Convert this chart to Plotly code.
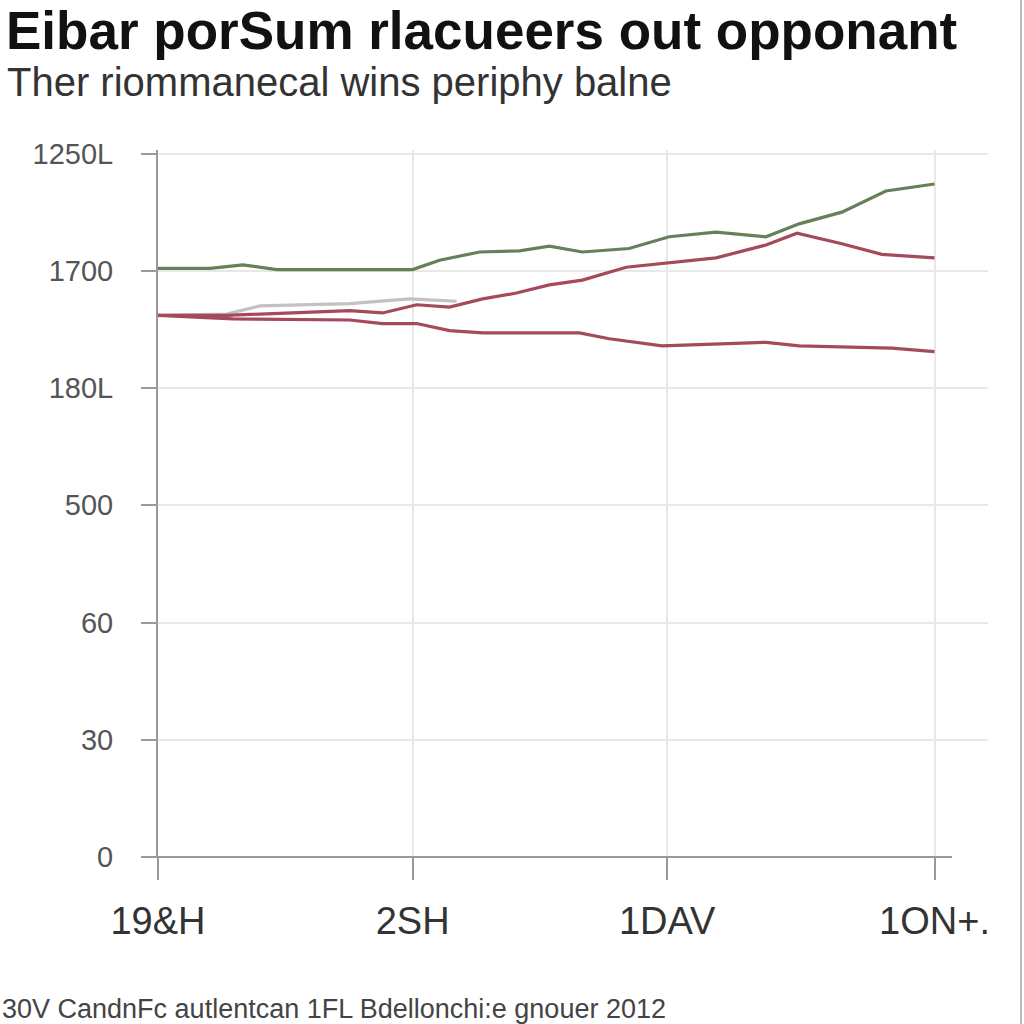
import plotly.graph_objects as go

# ---- text ----
title_text = "Eibar porSum rlacueers out opponant"
subtitle_text = "Ther riommanecal wins periphy balne"
footer_text = "30V CandnFc autlentcan 1FL Bdellonchi:e gnouer 2012"

# ---- axes ----
x_tick_vals = [0, 10, 20, 30.5]
x_tick_labels = ["19&H", "2SH", "1DAV", "1ON+."]
y_tick_vals = [0, 1, 2, 3, 4, 5, 6]
y_tick_labels = ["0", "30", "60", "500", "180L", "1700", "1250L"]

# ---- series ----
green_x = [0, 2.04, 3.33, 4.67, 10, 11.06, 12.63, 14.2, 15.37, 16.67, 18.5,
           20.08, 21.92, 23.88, 25.18, 26.86, 28.59, 30.5]
green_y = [5.02, 5.02, 5.05, 5.01, 5.01, 5.09, 5.16, 5.17, 5.21, 5.16, 5.19,
           5.29, 5.33, 5.29, 5.40, 5.50, 5.68, 5.74]

red_up_x = [0, 2.7, 7.53, 8.82, 10.16, 11.45, 12.75, 14.08, 15.37, 16.67, 18.39,
            20.08, 21.92, 23.88, 25.1, 26.86, 28.43, 30.5]
red_up_y = [4.62, 4.62, 4.66, 4.64, 4.71, 4.69, 4.76, 4.81, 4.88, 4.92, 5.03,
            5.07, 5.11, 5.22, 5.32, 5.23, 5.14, 5.11]

gray_x = [0, 2.7, 4.0, 7.53, 9.88, 11.73]
gray_y = [4.62, 4.63, 4.70, 4.72, 4.76, 4.74]

red_low_x = [0, 2.94, 7.53, 8.82, 10.16, 11.45, 12.75, 15.37, 16.55, 17.73,
             19.8, 23.88, 25.18, 28.82, 30.5]
red_low_y = [4.62, 4.59, 4.58, 4.55, 4.55, 4.49, 4.47, 4.47, 4.47, 4.42,
             4.36, 4.39, 4.36, 4.34, 4.31]

GREEN = "#66805a"
RED = "#a44a5b"
GRAY = "#c2c2c2"

fig = go.Figure()
fig.add_trace(go.Scatter(x=gray_x, y=gray_y, mode="lines",
                         line=dict(color=GRAY, width=3.2), hoverinfo="skip"))
fig.add_trace(go.Scatter(x=red_low_x, y=red_low_y, mode="lines",
                         line=dict(color=RED, width=3.2), hoverinfo="skip"))
fig.add_trace(go.Scatter(x=red_up_x, y=red_up_y, mode="lines",
                         line=dict(color=RED, width=3.2), hoverinfo="skip"))
fig.add_trace(go.Scatter(x=green_x, y=green_y, mode="lines",
                         line=dict(color=GREEN, width=3.2), hoverinfo="skip"))

# plot area: x 158..988 px, y 150..857 px
L, R, T, B = 158, 988, 150, 857
W, H = 1024, 1024
pw, ph = R - L, B - T

def px(x):
    return (x - L) / pw

def py(y):
    return (B - y) / ph

fig.update_layout(
    width=W, height=H,
    margin=dict(l=L, r=W - R, t=T, b=H - B, pad=0),
    paper_bgcolor="white", plot_bgcolor="white",
    showlegend=False,
    xaxis=dict(range=[0, 32.6], tickmode="array", tickvals=x_tick_vals,
               ticktext=x_tick_labels, showgrid=True, gridcolor="#e8e8e8",
               gridwidth=2, zeroline=False, showline=False,
               ticks="outside", ticklen=22, tickwidth=2, tickcolor="#9a9a9a",
               ticklabelstandoff=8,
               tickfont=dict(family="Liberation Sans, Arial",
                             size=38, color="#333333")),
    yaxis=dict(range=[0, 6.03], tickmode="array", tickvals=y_tick_vals,
               ticktext=y_tick_labels, showgrid=True, gridcolor="#e8e8e8",
               gridwidth=2, zeroline=False, showline=True, linecolor="#9a9a9a",
               linewidth=2, ticks="outside", ticklen=15, tickwidth=2,
               tickcolor="#9a9a9a", ticklabelstandoff=22,
               tickfont=dict(family="Liberation Sans, Arial", size=29,
                             color="#555555")),
)

shapes = [
    # x axis line (extends past the y axis)
    dict(type="line", xref="paper", yref="paper", x0=px(143), x1=px(952),
         y0=0, y1=0, line=dict(color="#9a9a9a", width=2), layer="above"),
    # y axis line extension below zero
    dict(type="line", xref="paper", yref="paper", x0=0, x1=0,
         y0=0, y1=py(877), line=dict(color="#9a9a9a", width=2), layer="above"),
    # right frame border
    dict(type="line", xref="paper", yref="paper", x0=px(1021), x1=px(1021),
         y0=py(0), y1=py(1024), line=dict(color="#bdbdbd", width=2)),
]
fig.update_layout(shapes=shapes)

annotations = [
    dict(text="<b>" + title_text + "</b>", xref="paper", yref="paper",
         x=px(4), y=py(-1), xanchor="left", yanchor="top", showarrow=False,
         font=dict(family="Liberation Sans, Arial", size=53, color="#111111")),
    dict(text=subtitle_text, xref="paper", yref="paper",
         x=px(5), y=py(82), xanchor="left", yanchor="middle", showarrow=False,
         font=dict(family="Liberation Sans, Arial", size=40, color="#333333")),
    dict(text=footer_text, xref="paper", yref="paper",
         x=px(0), y=py(1026), xanchor="left", yanchor="bottom", showarrow=False,
         font=dict(family="Liberation Sans, Arial", size=27, color="#444444")),
]
fig.update_layout(annotations=annotations)

fig.write_html("out.html")
